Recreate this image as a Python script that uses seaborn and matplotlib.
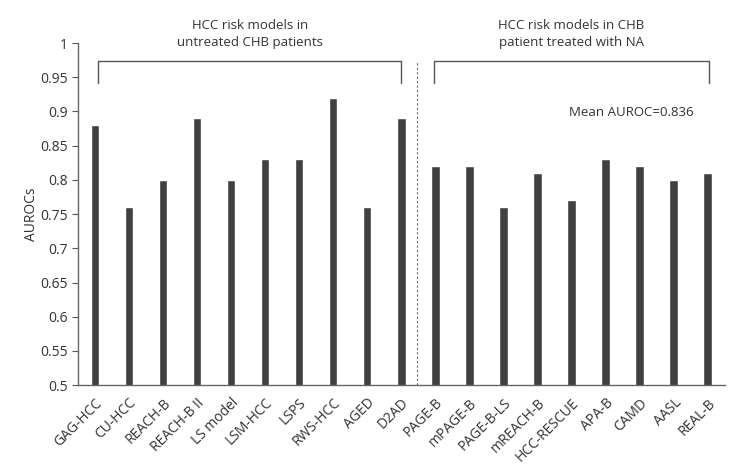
import numpy as np
import pandas as pd
import matplotlib
matplotlib.use("Agg")
import matplotlib.pyplot as plt
import seaborn as sns

models = ["GAG-HCC", "CU-HCC", "REACH-B", "REACH-B II", "LS model", "LSM-HCC",
          "LSPS", "RWS-HCC", "AGED", "D2AD", "PAGE-B", "mPAGE-B", "PAGE-B-LS",
          "mREACH-B", "HCC-RESCUE", "APA-B", "CAMD", "AASL", "REAL-B"]
aurocs = [0.88, 0.76, 0.80, 0.89, 0.80, 0.83, 0.83, 0.92, 0.76, 0.89,
          0.82, 0.82, 0.76, 0.81, 0.77, 0.83, 0.82, 0.80, 0.81]
yticks = [0.5, 0.55, 0.6, 0.65, 0.7, 0.75, 0.8, 0.85, 0.9, 0.95, 1.0]
ytick_labels = ["0.5", "0.55", "0.6", "0.65", "0.7", "0.75", "0.8", "0.85", "0.9", "0.95", "1"]
group_titles = ["HCC risk models in\nuntreated CHB patients",
                "HCC risk models in CHB\npatient treated with NA"]
mean_text = "Mean AUROC=0.836"

sns.set_style("white")
plt.rcParams["font.family"] = ["Open Sans", "DejaVu Sans"]

df = pd.DataFrame({"model": models, "auroc": aurocs})

fig = plt.figure(figsize=(7.41, 4.68), dpi=100)
ax = fig.add_axes([0.105, 0.177, 0.873, 0.731])

sns.barplot(data=df, x="model", y="auroc", color="#404040", width=0.25,
            saturation=1, ax=ax)

ax.set_ylim(0.5, 1.0)
ax.set_xlim(-0.5, 18.5)
ax.set_yticks(yticks)
ax.set_yticklabels(ytick_labels, fontsize=10, color="#333333")
ax.set_xticks(range(len(models)))
ax.set_xticklabels(models, rotation=45, ha="right", rotation_mode="anchor",
                   fontsize=10, color="#333333")
ax.tick_params(axis="y", which="both", left=True, length=4, width=0.8,
               color="#555555", direction="out", pad=3)
ax.tick_params(axis="x", bottom=False, pad=4)
ax.set_xlabel("")
ax.set_ylabel("AUROCs", fontsize=10, color="#333333", labelpad=1)

sns.despine(ax=ax)
for side in ["left", "bottom"]:
    ax.spines[side].set_color("#666666")
    ax.spines[side].set_linewidth(1.0)

# separator between groups
ax.plot([9.45, 9.45], [0.5, 0.972], ls=(0, (2, 2)), color="#666666", lw=0.8,
        clip_on=False)

# brackets
for x0, x1 in [(0.1, 9.0), (9.95, 18.05)]:
    ax.plot([x0, x0, x1, x1], [0.9415, 0.9737, 0.9737, 0.9415],
            color="#555555", lw=1.0, clip_on=False)

ax.text(4.55, 1.013, group_titles[0], ha="center", va="center", fontsize=9.5,
        color="#333333", linespacing=1.35, clip_on=False)
ax.text(14.0, 1.013, group_titles[1], ha="center", va="center", fontsize=9.5,
        color="#333333", linespacing=1.35, clip_on=False)
ax.text(15.77, 0.899, mean_text, ha="center", va="center", fontsize=9.5,
        color="#333333")

fig.savefig("out.png", dpi=100)
